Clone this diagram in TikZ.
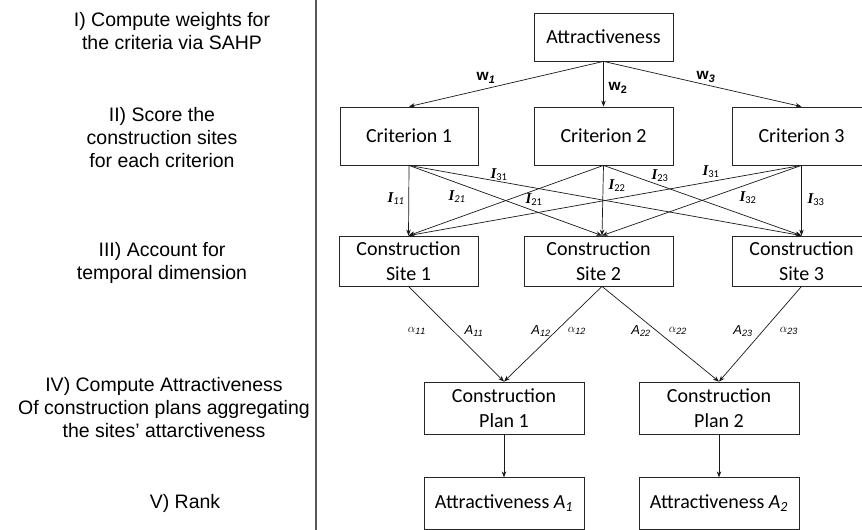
\documentclass[tikz,border=0pt]{standalone}
\usepackage{fontspec}
\setmainfont{Liberation Sans}
\newfontfamily\boxfont{Carlito}
\newfontfamily\serifI{Liberation Serif}
\usetikzlibrary{arrows.meta}
\newcommand{\Ilab}[1]{{\serifI\bfseries\itshape I}\textsubscript{\boxfont #1}}
\newcommand{\Alab}[1]{{\itshape A}\textsubscript{\itshape #1}}
\newcommand{\alab}[1]{$\alpha_{\mathit{#1}}$}
\begin{document}
\begin{tikzpicture}[x=1pt,y=-1pt,
  blk/.style={draw=black!85, line width=0.8pt, inner sep=0pt, align=center,
    font=\boxfont\fontsize{20}{25}\selectfont},
  conn/.style={-{Stealth[length=6pt,width=4.5pt]}, line width=0.7pt, black!90},
  stage/.style={align=center, inner sep=0pt, font=\fontsize{19.5}{23}\selectfont},
  wlab/.style={inner sep=0pt, font=\fontsize{15.5}{15.5}\selectfont},
  ilab/.style={inner sep=0pt, font=\fontsize{15}{15}\selectfont},
  slab/.style={inner sep=0pt, font=\fontsize{13}{13}\selectfont}]
\clip (0,0) rectangle (862,530);
\fill[white] (0,0) rectangle (862,530);

% separator
\coordinate (sepT) at (316,0);
\coordinate (sepB) at (316,530);
\draw[line width=1.2pt, black!65] (sepT) -- (sepB);

% stage labels
\node[stage] (st1) at (172,31.5) {I) Compute weights for\\the criteria via SAHP};
\node[stage] (st2) at (162,137.5) {II) Score the\\construction sites\\for each criterion};
\node[stage] (st3) at (162,262.5) {III) Account for\\temporal dimension};
\node[stage] (st4) at (164,408) {IV) Compute Attractiveness\\Of construction plans aggregating\\the sites' attarctiveness};
\node[stage] (st5) at (185,503) {V) Rank};

% boxes
\node[blk, minimum width=139pt, minimum height=48pt] (attr) at (603.5,37) {Attractiveness};
\node[blk, minimum width=138pt, minimum height=58pt] (c1) at (409,136) {Criterion 1};
\node[blk, minimum width=139pt, minimum height=58pt] (c2) at (603.5,136) {Criterion 2};
\node[blk, minimum width=139pt, minimum height=58pt] (c3) at (801.5,136) {Criterion 3};
\node[blk, minimum width=139pt, minimum height=50pt] (s1) at (408.5,261) {Construction\\Site 1};
\node[blk, minimum width=149pt, minimum height=50pt] (s2) at (598.5,261) {Construction\\Site 2};
\node[blk, minimum width=139pt, minimum height=50pt] (s3) at (801.5,261) {Construction\\Site 3};
\node[blk, minimum width=160pt, minimum height=52pt] (p1) at (504,408) {Construction\\Plan 1};
\node[blk, minimum width=160pt, minimum height=52pt] (p2) at (719,408) {Construction\\Plan 2};
\node[blk, minimum width=160pt, minimum height=51.5pt] (a1) at (504,503.5) {Attractiveness \textit{A}\textsubscript{\itshape 1}};
\node[blk, minimum width=160pt, minimum height=51.5pt] (a2) at (719,503.5) {Attractiveness \textit{A}\textsubscript{\itshape 2}};

\coordinate (s2n) at ([xshift=3.5pt]s2.north);
\coordinate (s2s) at ([xshift=3.5pt]s2.south);

% weights
\draw[conn] (attr.south) -- (c1.north);
\draw[conn] (attr.south) -- (c2.north);
\draw[conn] (attr.south) -- (c3.north);

% criteria -> sites
\foreach \c in {c1,c2,c3}{
  \draw[conn] (\c.south) -- (s1.north);
  \draw[conn] (\c.south) -- (s2n);
  \draw[conn] (\c.south) -- (s3.north);
}

% sites -> plans
\draw[conn] (s1.south) -- (p1.north);
\draw[conn] (s2s) -- (p1.north);
\draw[conn] (s2s) -- (p2.north);
\draw[conn] (s3.south) -- (p2.north);

% plans -> ranks
\draw[conn] (p1.south) -- (a1.north);
\draw[conn] (p2.south) -- (a2.north);

% weight labels
\node[wlab] (w1) at (486,78) {\textbf{w}\textsubscript{\bfseries\itshape 1}};
\node[wlab] (w2) at (618,88) {\textbf{w}\textsubscript{\bfseries 2}};
\node[wlab] (w3) at (706,77) {\textbf{w}\textsubscript{\bfseries\itshape 3}};

% I labels
\node[ilab] (i1) at (499,175) {\Ilab{31}};
\node[ilab] (i2) at (396,199) {\Ilab{\itshape 11}};
\node[ilab] (i3) at (457,197) {\Ilab{\itshape 21}};
\node[ilab] (i4) at (534,200) {\Ilab{21}};
\node[ilab] (i5) at (617,186) {\Ilab{22}};
\node[ilab] (i6) at (660,176) {\Ilab{23}};
\node[ilab] (i7) at (711,172) {\Ilab{31}};
\node[ilab] (i8) at (748,198) {\Ilab{32}};
\node[ilab] (i9) at (816,200) {\Ilab{33}};

% alpha / A labels
\node[slab] (l1) at (417,331) {\alab{11}};
\node[slab] (l2) at (474,331) {\Alab{11}};
\node[slab] (l3) at (541,331) {\Alab{12}};
\node[slab] (l4) at (577,331) {\alab{12}};
\node[slab] (l5) at (641,331) {\Alab{22}};
\node[slab] (l6) at (678,331) {\alab{22}};
\node[slab] (l7) at (743,331) {\Alab{23}};
\node[slab] (l8) at (789,331) {\alab{23}};
\end{tikzpicture}
\end{document}
